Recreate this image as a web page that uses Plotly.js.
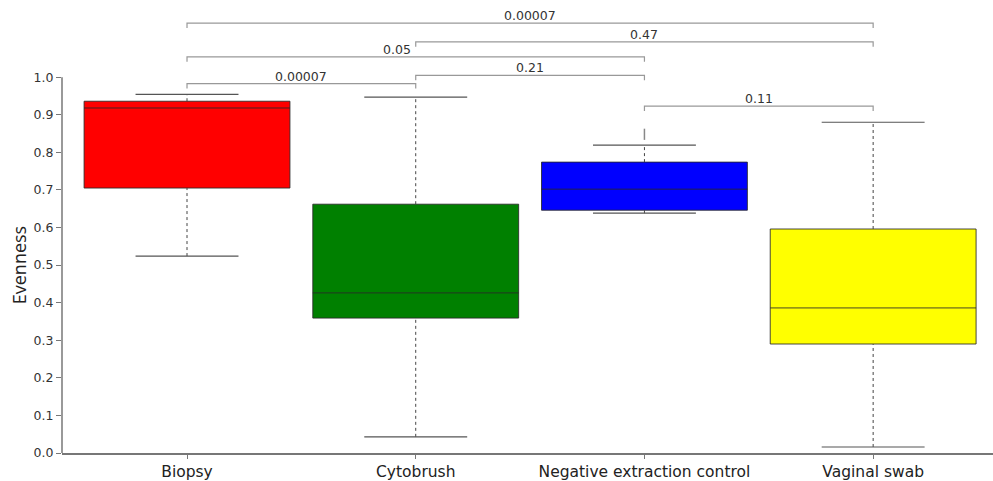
<!DOCTYPE html>
<html>
<head>
<meta charset="utf-8">
<script src="https://cdn.plot.ly/plotly-3.0.1.min.js"></script>
<style>html,body{margin:0;padding:0;background:#fff;}#chart{width:993px;height:481px;}</style>
</head>
<body>
<div id="chart"></div>
<script>
// ---- data ----
const categories = ["Biopsy", "Cytobrush", "Negative extraction control", "Vaginal swab"];
const boxColors = ["#ff0000", "#008000", "#0000ff", "#ffff00"];
const lowerWhisker = [0.524, 0.043, 0.638, 0.016];
const q1Values     = [0.705, 0.359, 0.646, 0.290];
const medianValues = [0.918, 0.426, 0.702, 0.386];
const q3Values     = [0.936, 0.662, 0.774, 0.596];
const upperWhisker = [0.954, 0.947, 0.819, 0.880];
const outlierCat = [2];
const outlierVal = [0.848];
const yTicks = [0, 0.1, 0.2, 0.3, 0.4, 0.5, 0.6, 0.7, 0.8, 0.9, 1.0];

// significance brackets
const bracketFrom = [0, 1, 0, 1, 0, 2];
const bracketTo   = [3, 3, 2, 2, 1, 3];
const bracketY    = [1.144, 1.094, 1.054, 1.005, 0.983, 0.923];
const bracketP    = ["0.00007", "0.47", "0.05", "0.21", "0.00007", "0.11"];

// ---- build ----
const catIdx = categories.map((c, i) => i);
const traces = [];
const boxW = 0.9;
const capHalf = boxW / 4;

catIdx.forEach(i => {
  traces.push({
    type: "scatter", mode: "lines", hoverinfo: "skip", showlegend: false,
    x: [i, i, null, i, i], y: [lowerWhisker[i], q1Values[i], null, q3Values[i], upperWhisker[i]],
    line: {color: "#444", width: 1, dash: "dot"}
  });
  traces.push({
    type: "scatter", mode: "lines", hoverinfo: "skip", showlegend: false,
    x: [i - capHalf, i + capHalf, null, i - capHalf, i + capHalf],
    y: [lowerWhisker[i], lowerWhisker[i], null, upperWhisker[i], upperWhisker[i]],
    line: {color: "#555", width: 1.2}
  });
  traces.push({
    type: "box", showlegend: false, name: categories[i],
    x: [i], q1: [q1Values[i]], median: [medianValues[i]], q3: [q3Values[i]],
    lowerfence: [q1Values[i]], upperfence: [q3Values[i]],
    width: boxW, whiskerwidth: 0,
    fillcolor: boxColors[i],
    line: {color: "rgba(40,40,40,0.85)", width: 1},
    boxpoints: false
  });
});

traces.push({
  type: "scatter", mode: "markers", hoverinfo: "skip", showlegend: false,
  x: outlierCat, y: outlierVal,
  marker: {symbol: "line-ns-open", size: 8, color: "#888", line: {color: "#888", width: 1.5}}
});

const shapes = [];
const annotations = [];
const tick = 0.013;
bracketFrom.forEach((a, k) => {
  const b = bracketTo[k], y = bracketY[k];
  shapes.push({
    type: "path", xref: "x", yref: "y",
    path: `M ${a} ${y - tick} L ${a} ${y} L ${b} ${y} L ${b} ${y - tick}`,
    line: {color: "#999", width: 1.2}
  });
  annotations.push({
    xref: "x", yref: "y", x: (a + b) / 2, y: y, yanchor: "bottom", xanchor: "center",
    text: bracketP[k], showarrow: false, yshift: -2,
    xshift: (k === 2 ? -19 : 0),
    font: {family: "DejaVu Sans, Verdana, sans-serif", size: 12.5, color: "#333"}
  });
});

shapes.push({
  type: "line", xref: "paper", yref: "y", x0: 0, x1: 0, y0: 0, y1: 1.0,
  line: {color: "#777", width: 1.5}
});

annotations.push({
  xref: "paper", yref: "y", x: -0.046, y: 0.5, xanchor: "center", yanchor: "middle",
  text: "Evenness", textangle: -90, showarrow: false,
  font: {family: "Open Sans, sans-serif", size: 18, color: "#222"}
});

const layout = {
  width: 993, height: 481,
  margin: {l: 62, r: 0, t: 2, b: 28},
  paper_bgcolor: "#fff", plot_bgcolor: "#fff",
  showlegend: false,
  xaxis: {
    range: [-0.5466, 3.524], tickvals: catIdx, ticktext: categories,
    showgrid: false, zeroline: false, showline: true, linecolor: "#777", linewidth: 1.5,
    ticks: "outside", ticklen: 4, tickcolor: "#777",
    tickfont: {family: "DejaVu Sans, Verdana, sans-serif", size: 15.5, color: "#222"}
  },
  yaxis: {
    range: [0, 1.2], tickvals: yTicks, tickformat: ".1f",
    showgrid: false, zeroline: false, showline: false,
    ticks: "outside", ticklen: 5, tickcolor: "#777",
    tickfont: {family: "DejaVu Sans, Verdana, sans-serif", size: 12.5, color: "#333"}
  },
  shapes: shapes,
  annotations: annotations
};

Plotly.newPlot("chart", traces, layout, {displayModeBar: false, staticPlot: true});
</script>
</body>
</html>
